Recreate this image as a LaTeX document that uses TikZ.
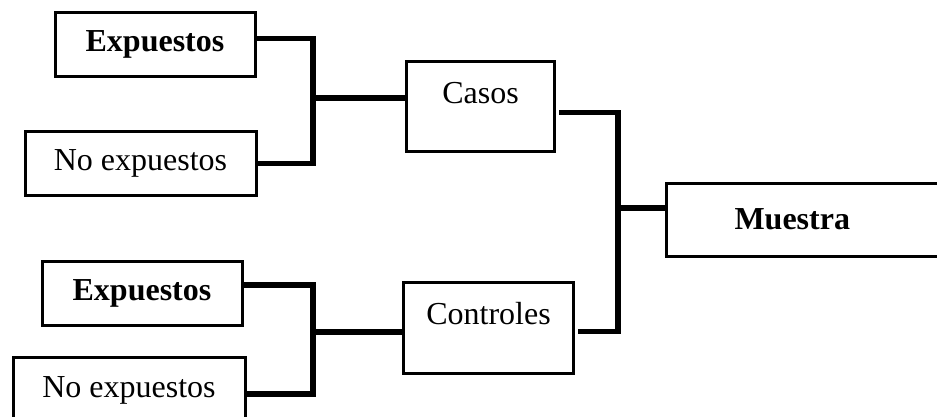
\documentclass[tikz,border=0pt]{standalone}
\usepackage{fontspec}
\setmainfont{Liberation Serif}
\usepackage{tikz}
\usetikzlibrary{positioning}
\tikzstyle{block} = [draw, line width=1.5pt, rectangle, inner sep=0pt, font=\fontsize{16}{19}\selectfont]
\tikzstyle{group} = [block, text height=21pt, text depth=24pt]
\tikzstyle{link} = [line width=2.6pt, line join=miter]

\begin{document}
\begin{tikzpicture}[x=0.5pt, y=-0.5pt]
        \useasboundingbox (0,0) rectangle (937,417);
        \clip (0,0) rectangle (937,417);
        % Exposure blocks
        \node (exp1) at (155,44.5) [block, minimum width=100pt, minimum height=32pt] {\textbf{Expuestos}};
        \node (noexp1) at (140.5,163.5) [block, minimum width=115.5pt, minimum height=31.5pt] {No expuestos};
        \node (exp2) at (142,293) [block, minimum width=100pt, minimum height=32pt] {\textbf{Expuestos}};
        \node (noexp2) at (129,390) [block, minimum width=116pt, minimum height=33pt] {No expuestos};
        % Group blocks
        \node (casos) at (405,60) [group, anchor=north west, text width=74pt, align=center] {Casos};
        \node (controles) at (402,281) [group, anchor=north west, text width=85pt, align=center, text depth=24.5pt] {Controles};
        \node (muestra) at (665,219.5) [block, anchor=west, minimum height=36.5pt, inner xsep=34pt, text width=110pt, align=left] {\textbf{Muestra}};
        % Junctions
        \coordinate (j1) at (313,98);
        \coordinate (j2) at (313,332);
        \coordinate (j3) at (618,208);
        \draw[link] ([yshift=3pt]exp1.east) -| (j1) |- (noexp1.east);
        \draw[link] (j1) -- (j1 -| casos.west);
        \draw[link] ([yshift=4pt]exp2.east) -| (j2) |- ([yshift=-2pt]noexp2.east);
        \draw[link] (j2) -- (j2 -| controles.west);
        \draw[link] ([xshift=1.5pt, yshift=-3pt]casos.east) -| (j3) |- ([xshift=1.5pt, yshift=-1.8pt]controles.east);
        \draw[link] (j3) -- (j3 -| muestra.west);
\end{tikzpicture}
\end{document}
